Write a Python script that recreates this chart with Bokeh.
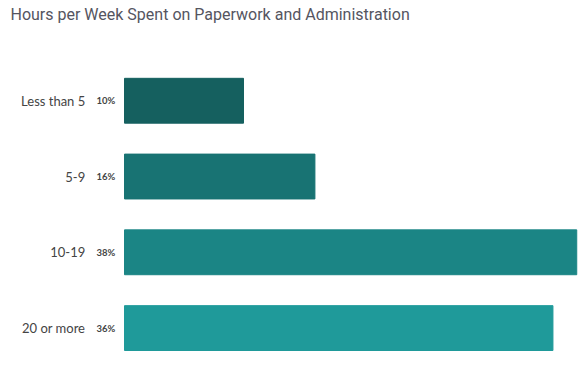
from bokeh.plotting import figure
from bokeh.models import Range1d, ColumnDataSource
from bokeh.core.properties import value
from bokeh.embed import file_html
from bokeh.resources import INLINE

categories = ["Less than 5", "5-9", "10-19", "20 or more"]
percents = [10, 16, 38, 36]
pct_labels = ["10%", "16%", "38%", "36%"]
colors = ["#15605f", "#187373", "#1b8585", "#1f9a9a"]

idx = list(range(len(categories)))
src = ColumnDataSource(dict(y=idx, v=percents, cat=categories, pct=pct_labels, color=colors,
                            zero=[0] * len(idx)))

p = figure(width=581, height=366, output_backend="svg", toolbar_location=None,
           x_range=Range1d(-10.42, 38.4), y_range=Range1d(3.507, -0.993),
           min_border=0, outline_line_color=None)
p.title.text = "Hours per Week Spent on Paperwork and Administration"
p.title.text_font = "Roboto"
p.title.text_font_style = "normal"
p.title.text_font_size = "16px"
p.title.text_color = "#55555f"
p.title.offset = 10
p.title.standoff = 4

p.hbar(y="y", left="zero", right="v", height=0.592, color="color", source=src)

p.text(x=-3.3, y="y", text="cat", source=src, text_align="right", text_baseline="middle",
       text_font=value("Lato"), text_font_size="13px", text_color="#444444")
p.text(x=-2.35, y="y", text="pct", source=src, text_align="left", text_baseline="middle",
       text_font=value("Lato"), text_font_size="9.5px", text_font_style="bold",
       text_color="#444444")

p.axis.visible = False
p.grid.visible = False
p.background_fill_color = "white"
p.border_fill_color = "white"

open("out.html", "w").write(file_html(p, INLINE))
